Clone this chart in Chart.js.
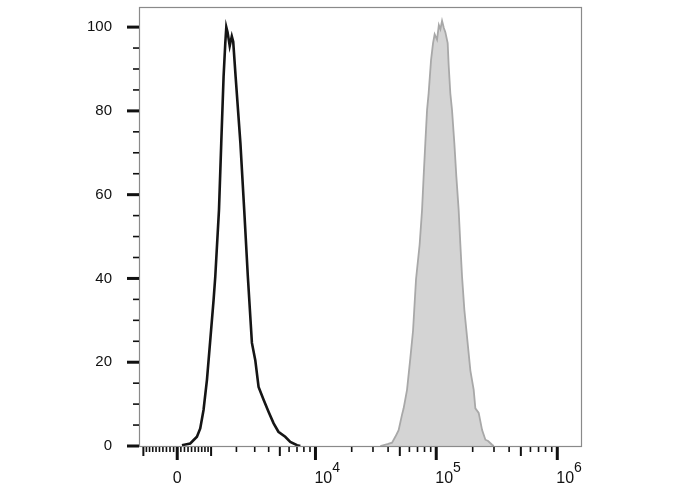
<!DOCTYPE html>
<html>
<head>
<meta charset="utf-8">
<script src="https://cdn.jsdelivr.net/npm/chart.js@4.4.1/dist/chart.umd.min.js"></script>
<style>
  html, body { margin: 0; padding: 0; background: #fff; }
  #wrap { width: 688px; height: 490px; position: relative; }
</style>
</head>
<body>
<div id="wrap"><canvas id="histo"></canvas></div>
<script>
// Fluorescence intensity (biexponential axis) vs % of max
const blackIntensity = [130, 362, 556, 655, 756, 864, 972, 1084, 1143, 1276, 1361, 1450, 1518, 1559, 1610, 1700, 1790, 1853, 1963, 2193, 2390, 2589, 2826, 3035, 3252, 3615, 3989, 4418, 4863, 5560, 6143, 6997, 7467];
const blackPercent   = [0.2, 0.6, 2.2, 4.2, 8.6, 15.8, 25.3, 34.8, 40.4, 56.3, 72.3, 88.1, 96.2, 100, 98.8, 95.5, 97.8, 96.5, 88.1, 72.3, 56.3, 40.4, 24.6, 20.5, 14.1, 11, 8.2, 5.4, 3.4, 2.2, 1, 0.2, 0];

const grayIntensity = [34480, 40160, 43120, 45900, 48880, 52160, 53770, 57360, 61090, 64300, 68070, 72920, 76330, 78660, 81240, 83950, 86520, 90580, 94090, 97000, 101530, 105100, 108200, 111680, 115600, 118900, 124300, 126600, 130700, 135000, 141100, 146600, 153200, 158200, 163400, 170700, 179700, 191400, 203900, 210500, 224200, 239300, 254700, 268100, 289300, 298100];
const grayPercent   = [0, 0.5, 0.8, 2.2, 3.8, 7.5, 9, 13.4, 21, 27.5, 39.8, 48.1, 56.3, 64.3, 72.3, 80.2, 84.2, 92.1, 96.2, 98.3, 97, 100.5, 99.5, 101.5, 99.8, 98.8, 96.2, 91, 84.2, 80.2, 72.3, 64.3, 56.3, 48.1, 40.4, 32.5, 26, 18, 13.4, 9, 7.9, 3.8, 1.5, 1.2, 0.3, 0];

const yLabels = [0, 20, 40, 60, 80, 100];
const yMinor = [5, 10, 15, 25, 30, 35, 45, 50, 55, 65, 70, 75, 85, 90, 95];

const xMajor = [0, 1e4, 1e5, 1e6];
const xMedium = [-1000, 1000, 5000, 5e4, 5e5];
const xMinor = [-900, -800, -700, -600, -500, -400, -300, -200, -100,
  100, 200, 300, 400, 500, 600, 700, 800, 900,
  2000, 3000, 4000, 6000, 7000, 8000, 9000,
  2e4, 3e4, 4e4, 6e4, 7e4, 8e4, 9e4,
  2e5, 3e5, 4e5, 6e5, 7e5, 8e5, 9e5];
const xLabels = [
  { value: 0, base: '0', sup: '' },
  { value: 1e4, base: '10', sup: '4' },
  { value: 1e5, base: '10', sup: '5' },
  { value: 1e6, base: '10', sup: '6' }
];

// biexponential-like display transform (asinh)
const toAxis = v => Math.asinh(v / 1450) / Math.LN10;

const pts = (xs, ys) => xs.map((v, i) => ({ x: toAxis(v), y: ys[i] }));

const axisDecor = {
  id: 'axisDecor',
  afterDraw(chart) {
    const { ctx, chartArea: a, scales: { x, y } } = chart;
    ctx.save();

    // frame
    ctx.strokeStyle = '#8a8a8a';
    ctx.lineWidth = 1.2;
    ctx.strokeRect(a.left + 0.5, a.top + 0.5, a.right - a.left - 1, a.bottom - a.top);

    ctx.fillStyle = '#111';
    // y ticks
    yLabels.forEach(v => {
      const py = y.getPixelForValue(v);
      ctx.fillRect(a.left - 12, py - 1.5, 12, 3);
    });
    yMinor.forEach(v => {
      const py = y.getPixelForValue(v);
      ctx.fillRect(a.left - 6, py - 0.8, 6, 1.6);
    });

    // x ticks
    const xt = (vals, len, w) => vals.forEach(v => {
      const px = x.getPixelForValue(toAxis(v));
      ctx.fillRect(px - w / 2, a.bottom + 1, w, len);
    });
    xt(xMinor, 5, 1.6);
    xt(xMedium, 9, 2);
    xt(xMajor, 13, 3);

    // x labels
    ctx.fillStyle = '#111';
    ctx.textBaseline = 'alphabetic';
    xLabels.forEach(l => {
      const px = x.getPixelForValue(toAxis(l.value));
      ctx.font = '16px "Liberation Sans", Arial, sans-serif';
      if (!l.sup) {
        ctx.textAlign = 'center';
        ctx.fillText(l.base, px, 483);
      } else {
        ctx.textAlign = 'left';
        const left = px - 1;
        ctx.fillText(l.base, left, 483);
        const w = ctx.measureText(l.base).width;
        ctx.font = '14px "Liberation Sans", Arial, sans-serif';
        ctx.fillText(l.sup, left + w, 472);
      }
    });
    ctx.restore();
  }
};

new Chart(document.getElementById('histo'), {
  type: 'line',
  data: {
    datasets: [
      {
        label: 'Stained',
        data: pts(grayIntensity, grayPercent),
        borderColor: '#a8a8a8',
        backgroundColor: '#d4d4d4',
        borderWidth: 1.8,
        fill: 'origin',
        pointRadius: 0,
        tension: 0
      },
      {
        label: 'Control',
        data: pts(blackIntensity, blackPercent),
        borderColor: '#151515',
        borderWidth: 2.6,
        fill: false,
        pointRadius: 0,
        tension: 0
      }
    ]
  },
  options: {
    responsive: true,
    maintainAspectRatio: false,
    animation: false,
    layout: { padding: { top: 7, right: 106, left: 0, bottom: 0 } },
    plugins: { legend: { display: false }, tooltip: { enabled: false } },
    scales: {
      x: {
        type: 'linear',
        min: toAxis(-1150),
        max: toAxis(1.6e6),
        grid: { display: false },
        border: { display: false },
        ticks: { display: false },
        afterFit: s => { s.height = 44; s.paddingLeft = 0; s.paddingRight = 0; }
      },
      y: {
        min: 0,
        max: 104.8,
        grid: { display: false },
        border: { display: false },
        afterBuildTicks: s => { s.ticks = yLabels.map(v => ({ value: v })); },
        ticks: {
          color: '#111',
          font: { family: '"Liberation Sans", Arial, sans-serif', size: 15 },
          padding: 19
        },
        afterFit: s => { s.width = 139; s.paddingTop = 0; s.paddingBottom = 0; }
      }
    }
  },
  plugins: [axisDecor]
});
</script>
</body>
</html>
